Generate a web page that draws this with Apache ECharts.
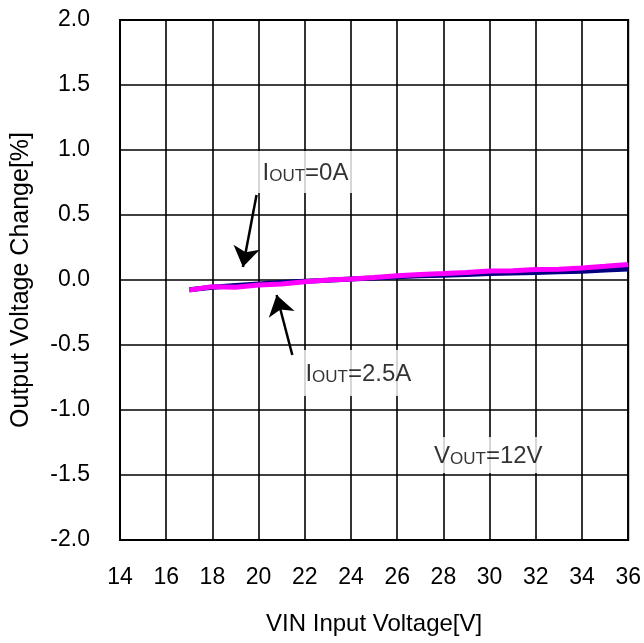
<!DOCTYPE html>
<html>
<head>
<meta charset="utf-8">
<script src="https://cdn.jsdelivr.net/npm/echarts@6.0.0/dist/echarts.min.js"></script>
<style>html,body{margin:0;padding:0;background:#fff;}#c{width:644px;height:643px;}</style>
</head>
<body>
<div id="c"></div>
<script>
// Data
const vin = [17,18,19,20,21,22,23,24,25,26,27,28,29,30,31,32,33,34,35,36];
const iout0 = [-0.075,-0.055,-0.042,-0.03,-0.02,-0.01,-0.002,0.008,0.016,0.025,0.032,0.037,0.043,0.05,0.054,0.058,0.063,0.068,0.076,0.085];
const iout25 = [-0.077,-0.051,-0.055,-0.038,-0.031,-0.013,0.0,0.008,0.02,0.033,0.043,0.05,0.058,0.07,0.072,0.08,0.082,0.092,0.105,0.12];
const xTicks = [14,16,18,20,22,24,26,28,30,32,34,36];
const yTicks = [-2.0,-1.5,-1.0,-0.5,0.0,0.5,1.0,1.5,2.0];

// Annotations (data units)
const noteX = [19.39, 21.68, 27.29];
const noteY = [0.83, -0.715, -1.346];
const noteText = ['{b|I}{s|OUT}{b|=0A}', '{b|I}{s|OUT}{b|=2.5A}', '{b|V}{s|OUT}{b|=12V}'];
const notePad = [[8,44,8,18],[10,7,10,8],[5,11,5,7]];
const arrowFrom = [[19.91,0.654],[21.46,-0.577]];
const arrowTo = [[19.32,0.10],[20.78,-0.115]];

const FONT = '"Liberation Sans", Arial, sans-serif';
const chart = echarts.init(document.getElementById('c'), null, {renderer:'canvas'});
const rich = {
  b:{fontSize:24, fontFamily:FONT, color:'#000', verticalAlign:'bottom', lineHeight:26},
  s:{fontSize:17, fontFamily:FONT, color:'#000', verticalAlign:'bottom', lineHeight:26}
};
chart.setOption({
  animation:false,
  backgroundColor:'#fff',
  grid:{left:120, right:14, top:20, bottom:103, show:true, borderColor:'#000', borderWidth:2, backgroundColor:'transparent'},
  xAxis:{
    type:'value', min:xTicks[0], max:xTicks[xTicks.length-1], interval:2,
    axisLine:{show:false}, axisTick:{show:false},
    splitLine:{show:true, lineStyle:{color:'#000', width:1.6}},
    axisLabel:{fontSize:23, fontFamily:FONT, color:'#000', margin:26},
    name:'VIN Input Voltage[V]', nameLocation:'middle', nameGap:72,
    nameTextStyle:{fontSize:24, fontFamily:FONT, color:'#000'}
  },
  yAxis:{
    type:'value', min:yTicks[0], max:yTicks[yTicks.length-1], interval:0.5,
    axisLine:{show:false}, axisTick:{show:false},
    splitLine:{show:true, lineStyle:{color:'#000', width:1.6}},
    axisLabel:{fontSize:23, fontFamily:FONT, color:'#000', margin:30, formatter:v=>v.toFixed(1)},
    name:'Output Voltage Change[%]', nameLocation:'middle', nameGap:86,
    nameTextStyle:{fontSize:25, fontFamily:FONT, color:'#000'}
  },
  series:[
    {type:'line', data:vin.map((x,i)=>[x,iout0[i]]), showSymbol:false, lineStyle:{color:'#000080', width:5}, z:3},
    {type:'line', data:vin.map((x,i)=>[x,iout25[i]]), showSymbol:false, lineStyle:{color:'#ff00ff', width:5}, z:4},
    {type:'line', data:[], z:6,
      markLine:{silent:true, animation:false, symbol:['none','arrow'], symbolSize:20, label:{show:false},
        lineStyle:{color:'#000', width:2.5, type:'solid', opacity:1},
        itemStyle:{color:'#000'},
        data: arrowFrom.map((f,i)=>[{coord:f},{coord:arrowTo[i]}])}
    },
    {type:'scatter', symbolSize:0, z:5,
      data: noteX.map((x,i)=>({value:[x,noteY[i]], label:{formatter:noteText[i], padding:notePad[i]}})),
      label:{show:true, position:'right', distance:0, color:'#000', backgroundColor:'#fff', rich:rich}
    }
  ]
});
</script>
</body>
</html>
